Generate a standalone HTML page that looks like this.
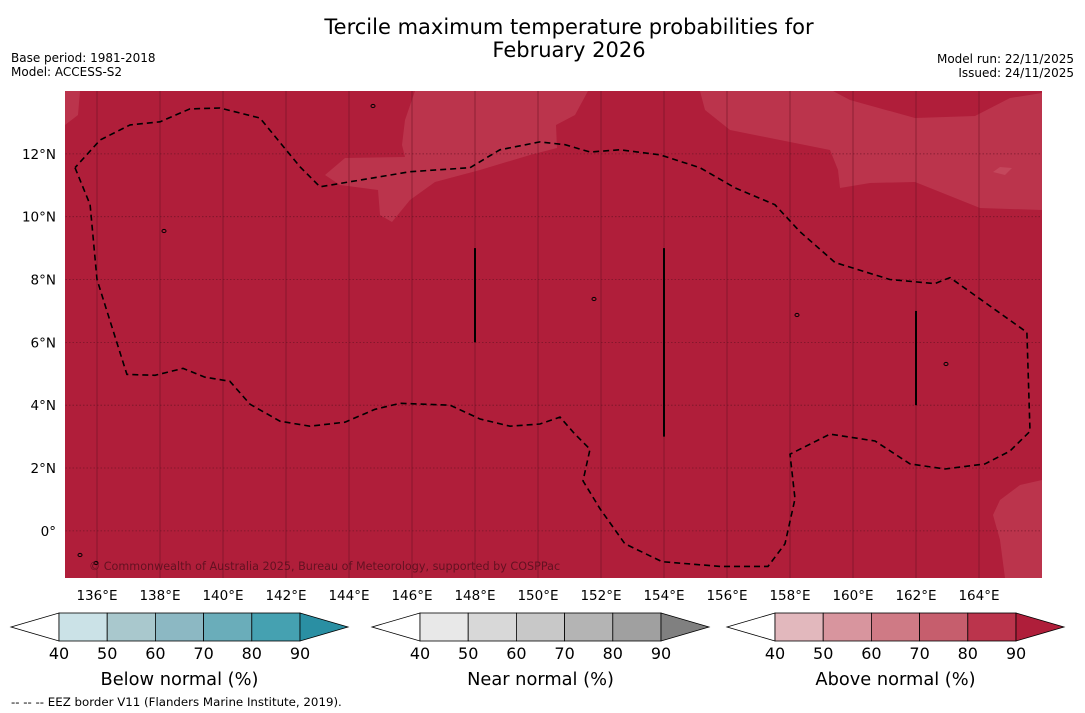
<!DOCTYPE html>
<html><head><meta charset="utf-8"><style>
html,body{margin:0;padding:0;background:#fff;}
svg{display:block;font-family:"DejaVu Sans","Liberation Sans",sans-serif;}
</style></head><body>
<svg id="chart" width="1085" height="713" viewBox="0 0 1085 713" xmlns="http://www.w3.org/2000/svg">
<text x="569" y="34" font-size="21" text-anchor="middle" fill="#000">Tercile maximum temperature probabilities for</text>
<text x="569" y="57" font-size="21" text-anchor="middle" fill="#000">February 2026</text>
<text x="11" y="62" font-size="12">Base period: 1981-2018</text>
<text x="11" y="76" font-size="12">Model: ACCESS-S2</text>
<text x="1074" y="63" font-size="12" text-anchor="end">Model run: 22/11/2025</text>
<text x="1074" y="77" font-size="12" text-anchor="end">Issued: 24/11/2025</text>
<g id="map"></g>
<g id="axes"></g>
<g id="bars"></g>
<text x="11" y="706" font-size="11.8">--  --  -- EEZ border V11 (Flanders Marine Institute, 2019).</text>
</svg>
<script>
const lonMin=135, lonMax=166, latMin=-1.5, latMax=14;
const lonTicks=[136,138,140,142,144,146,148,150,152,154,156,158,160,162,164];
const latTicks=[0,2,4,6,8,10,12];
const eezLon=[135.3,135.78,136.0,136.95,137.84,138.73,139.43,140.22,140.86,141.81,142.76,143.87,144.83,145.62,147.21,148.16,149.11,150.06,150.70,151.17,151.65,151.43,151.97,152.76,153.94,155.78,157.30,157.84,158.16,158.0,159.27,160.70,161.81,162.92,164.19,164.98,165.62,165.52,163.08,162.60,161.17,159.43,158.32,157.52,156.25,155.14,153.87,152.60,151.65,150.86,150.06,148.79,147.84,145.94,143.08,142.44,141.17,139.90,138.95,138.0,137.05,136.10,135.3];
const eezLat=[11.56,10.38,8.0,4.98,4.95,5.17,4.89,4.76,4.03,3.49,3.33,3.46,3.87,4.06,4.0,3.56,3.33,3.4,3.62,3.08,2.6,1.59,0.70,-0.41,-0.98,-1.13,-1.13,-0.41,1.02,2.44,3.08,2.86,2.13,1.97,2.13,2.54,3.17,6.32,8.06,7.87,8.0,8.54,9.52,10.38,10.92,11.56,11.97,12.13,12.06,12.29,12.38,12.13,11.56,11.43,10.95,11.59,13.14,13.46,13.43,13.02,12.92,12.44,11.56];
const segLon=[148,154,162];
const segLat0=[6,3,4];
const segLat1=[9,9,7];
const levels=[40,50,60,70,80,90];
const belowColors=["#fff","#cbe2e7","#a9c8cd","#8cb8c3","#6aadba","#45a1b1","#2a8fa3"];
const nearColors=["#fff","#e8e8e8","#d8d8d8","#c8c8c8","#b4b4b4","#a0a0a0","#808080"];
const aboveColors=["#fff","#e2b8bd","#d8959e","#cf7a85","#c65e6d","#bb344c","#af1e3a"];
const barTitles=["Below normal (%)","Near normal (%)","Above normal (%)"];
const barX=[11,372,727];

const NS="http://www.w3.org/2000/svg";
const X0=65.5,X1=1042,Y0=91,Y1=578;
const xs=l=>X0+(l-lonMin)/(lonMax-lonMin)*(X1-X0);
const ys=l=>Y0+(latMax-l)/(latMax-latMin)*(Y1-Y0);
function mk(t,a,p){const e=document.createElementNS(NS,t);for(const k in a)e.setAttribute(k,a[k]);p.appendChild(e);return e;}
const map=document.getElementById('map'),axes=document.getElementById('axes'),bars=document.getElementById('bars');

let r=mk('rect',{x:65,y:91,width:977,height:487,fill:'#b01e3a'},map);


const light=[
"415,91 405,120 402,145 405,157 345,158 325,175 340,185 378,190 380,215 392,222 410,200 435,182 480,170 530,155 557,148 556,125 575,115 588,91",
"700,91 1042,91 1042,210 980,208 960,200 915,182 870,183 840,188 838,170 830,150 780,140 730,130 705,110",
"1042,480 1020,485 1000,500 993,515 1000,540 1005,578 1042,578",
"65,91 80,91 78,115 65,125"];
light.forEach((p,i)=>{const e=mk('polygon',{points:p,fill:'#bb344c'},map);

});
let d=mk('polygon',{points:"833,91 850,100 915,118 975,116 1010,98 1042,93 1042,91",fill:'#b01e3a'},map);


let lp=mk('polygon',{points:"993,172 1000,167 1012,168 1005,175",fill:'#c4475c'},map);



lonTicks.forEach(l=>{const x=xs(l);
const g=mk('line',{x1:x,y1:Y0,x2:x,y2:Y1,stroke:'#6a1224','stroke-width':0.8,'stroke-opacity':0.7},map);


const t=mk('text',{x:x,y:600,'font-size':13.5,'text-anchor':'middle'},axes);t.textContent=l+'°E';

});
latTicks.forEach(l=>{const y=ys(l);
const g=mk('line',{x1:X0,y1:y,x2:X1,y2:y,stroke:'#6a1224','stroke-width':0.8,'stroke-dasharray':'1.5,2','stroke-opacity':0.8},map);


const t=mk('text',{x:56,y:y+5,'font-size':13.5,'text-anchor':'end'},axes);t.textContent=l===0?'0°':l+'°N';

});

const pts=eezLon.map((l,i)=>xs(l).toFixed(1)+','+ys(eezLat[i]).toFixed(1)).join(' ');
const eez=mk('polyline',{points:pts,fill:'none',stroke:'#000','stroke-width':1.6,'stroke-dasharray':'6,4'},map);


segLon.forEach((l,i)=>{const s=mk('line',{x1:xs(l),y1:ys(segLat1[i]),x2:xs(l),y2:ys(segLat0[i]),stroke:'#000','stroke-width':2},map);

});
[[373,106],[164,231],[797,315],[946,364],[594,299],[80,555],[96,563]].forEach(p=>{const c=mk('ellipse',{cx:p[0],cy:p[1],rx:2,ry:1.6,fill:'none',stroke:'#000','stroke-width':1},map);

});
const cp=mk('text',{x:89,y:570,'font-size':11.2,fill:'#4a0d1a','fill-opacity':0.75},map);cp.textContent='© Commonwealth of Australia 2025, Bureau of Meteorology, supported by COSPPac';



const sets=[belowColors,nearColors,aboveColors];
sets.forEach((cols,b)=>{const x0=barX[b],w=48.2,top=613,bot=641,mid=627,rx=x0+48;
const g=mk('g',{},bars);


mk('polygon',{points:`${x0},${mid} ${rx},${top} ${rx},${bot}`,fill:cols[0],stroke:'#000','stroke-width':0.8},g);
for(let i=0;i<levels.length-1;i++){mk('rect',{x:rx+i*w,y:top,width:w,height:bot-top,fill:cols[i+1],stroke:'#000','stroke-width':0.8},g);}
const ex=rx+(levels.length-1)*w;
mk('polygon',{points:`${ex},${top} ${ex+48},${mid} ${ex},${bot}`,fill:cols[6],stroke:'#000','stroke-width':0.8},g);
levels.forEach((v,i)=>{const t=mk('text',{x:rx+i*w,y:659,'font-size':16,'text-anchor':'middle'},g);t.textContent=v;

});
const tt=mk('text',{x:rx+2.5*w,y:685,'font-size':17.8,'text-anchor':'middle'},g);tt.textContent=barTitles[b];

});
</script>
</body></html>
